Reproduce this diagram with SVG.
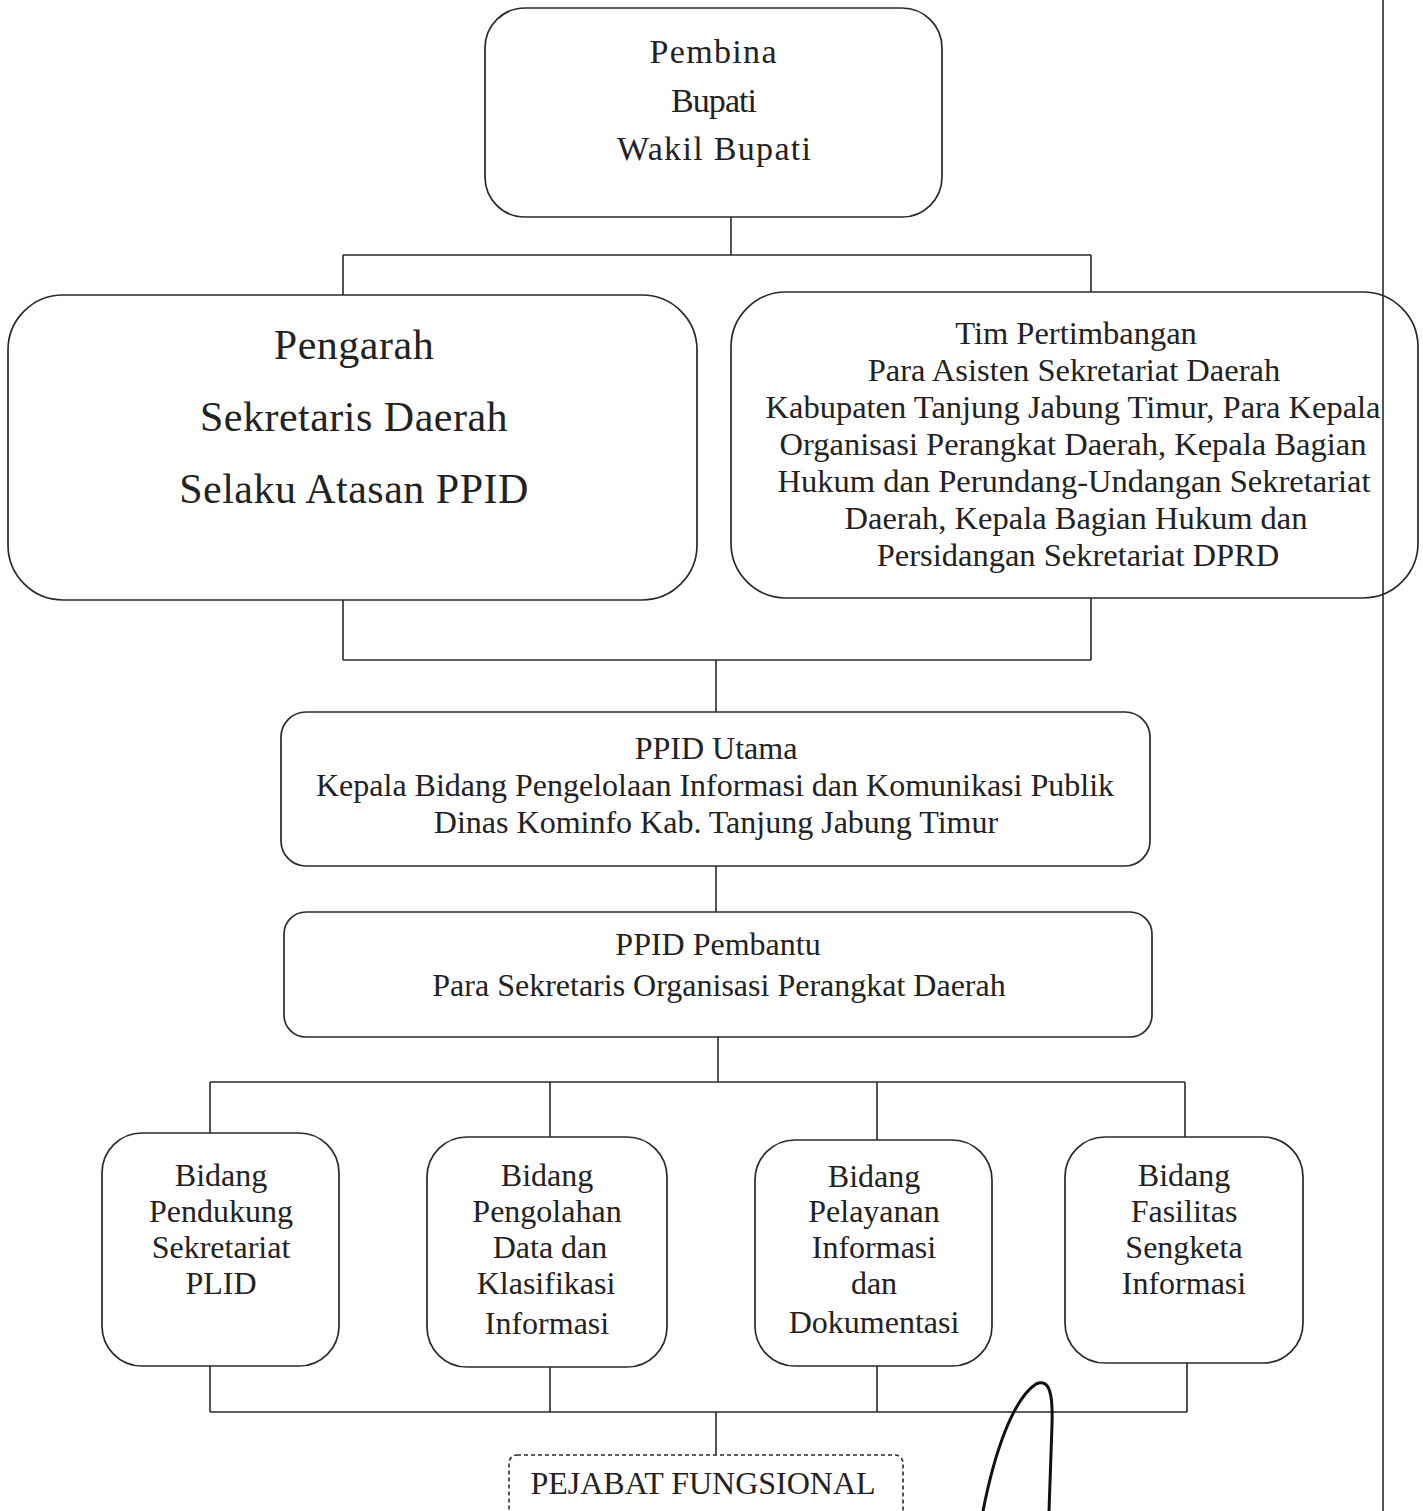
<svg xmlns="http://www.w3.org/2000/svg" width="1423" height="1511" viewBox="0 0 1423 1511">
<style>
.box{fill:none;stroke:#2a2a2a;stroke-width:1.7}
.dash{fill:none;stroke:#2a2a2a;stroke-width:1.6;stroke-dasharray:4 3}
.ln{fill:none;stroke:#2a2a2a;stroke-width:1.6}
text{font-family:"Liberation Serif","Times New Roman",serif;fill:#222;text-anchor:middle}
.t34{font-size:34px}
.t42{font-size:42px;letter-spacing:0.5px}
.t32{font-size:32.5px}
.t31{font-size:32px}
</style>
<rect width="1423" height="1511" fill="#fff"/>
<g id="connectors">
<path class="ln" d="M731 217V255M343 255H1091M343 255V295M1091 255V292"/>
<path class="ln" d="M343 600V660M1091 598V660M343 660H1091M716 660V712"/>
<path class="ln" d="M716 866V912"/>
<path class="ln" d="M718 1037V1082M210 1082H1185M210 1082V1133M550 1082V1137M877 1082V1140M1185 1082V1137"/>
<path class="ln" d="M210 1366V1412M550 1367V1412M877 1366V1412M1187 1363V1412M210 1412H1187M716 1412V1455"/>
</g>
<g id="page-border"><path class="ln" d="M1383 0V1511"/></g>
<g id="pembina">
<rect class="box" x="485" y="8" width="457" height="209" rx="40"/>
<text class="t34" x="713" y="63" textLength="127">Pembina</text>
<text class="t34" x="714" y="112" textLength="86">Bupati</text>
<text class="t34" x="714" y="160" textLength="194">Wakil Bupati</text>
</g>
<g id="pengarah">
<rect class="box" x="8" y="295" width="689" height="305" rx="55"/>
<text class="t42" x="354" y="359">Pengarah</text>
<text class="t42" x="354" y="431">Sekretaris Daerah</text>
<text class="t42" x="354" y="503">Selaku Atasan PPID</text>
</g>
<g id="tim-pertimbangan">
<rect class="box" x="731" y="292" width="687" height="306" rx="55"/>
<text class="t32" x="1076" y="344">Tim Pertimbangan</text>
<text class="t32" x="1074" y="381">Para Asisten Sekretariat Daerah</text>
<text class="t32" x="1073" y="418">Kabupaten Tanjung Jabung Timur, Para Kepala</text>
<text class="t32" x="1073" y="455">Organisasi Perangkat Daerah, Kepala Bagian</text>
<text class="t32" x="1074" y="492">Hukum dan Perundang-Undangan Sekretariat</text>
<text class="t32" x="1076" y="529">Daerah, Kepala Bagian Hukum dan</text>
<text class="t32" x="1078" y="566">Persidangan Sekretariat DPRD</text>
</g>
<g id="ppid-utama">
<rect class="box" x="281" y="712" width="869" height="154" rx="25"/>
<text class="t31" x="716" y="759">PPID Utama</text>
<text class="t31" x="715" y="796">Kepala Bidang Pengelolaan Informasi dan Komunikasi Publik</text>
<text class="t31" x="716" y="833">Dinas Kominfo Kab. Tanjung Jabung Timur</text>
</g>
<g id="ppid-pembantu">
<rect class="box" x="284" y="912" width="868" height="125" rx="22"/>
<text class="t31" x="718" y="955">PPID Pembantu</text>
<text class="t31" x="719" y="996">Para Sekretaris Organisasi Perangkat Daerah</text>
</g>
<g id="bidang-pendukung">
<rect class="box" x="102" y="1133" width="237" height="233" rx="40"/>
<text class="t31" x="221" y="1186">Bidang</text>
<text class="t31" x="221" y="1222">Pendukung</text>
<text class="t31" x="221" y="1258">Sekretariat</text>
<text class="t31" x="221" y="1294">PLID</text>
</g>
<g id="bidang-pengolahan">
<rect class="box" x="427" y="1137" width="240" height="230" rx="40"/>
<text class="t31" x="547" y="1186">Bidang</text>
<text class="t31" x="547" y="1222">Pengolahan</text>
<text class="t31" x="550" y="1258">Data dan</text>
<text class="t31" x="546" y="1294">Klasifikasi</text>
<text class="t31" x="547" y="1334">Informasi</text>
</g>
<g id="bidang-pelayanan">
<rect class="box" x="755" y="1140" width="237" height="226" rx="40"/>
<text class="t31" x="874" y="1187">Bidang</text>
<text class="t31" x="874" y="1222">Pelayanan</text>
<text class="t31" x="874" y="1258">Informasi</text>
<text class="t31" x="874" y="1294">dan</text>
<text class="t31" x="874" y="1333">Dokumentasi</text>
</g>
<g id="bidang-fasilitas">
<rect class="box" x="1065" y="1137" width="238" height="226" rx="40"/>
<text class="t31" x="1184" y="1186">Bidang</text>
<text class="t31" x="1184" y="1222">Fasilitas</text>
<text class="t31" x="1184" y="1258">Sengketa</text>
<text class="t31" x="1184" y="1294">Informasi</text>
</g>
<g id="pejabat-fungsional">
<rect class="dash" x="509" y="1455" width="394" height="80" rx="8"/>
<text class="t31" x="703" y="1494">PEJABAT FUNGSIONAL</text>
</g>
<g id="signature">
<path d="M983 1511C994 1455 1012 1400 1036 1384C1050 1378 1053 1395 1052 1425L1049 1511" fill="none" stroke="#111" stroke-width="3"/>
</g>
</svg>
